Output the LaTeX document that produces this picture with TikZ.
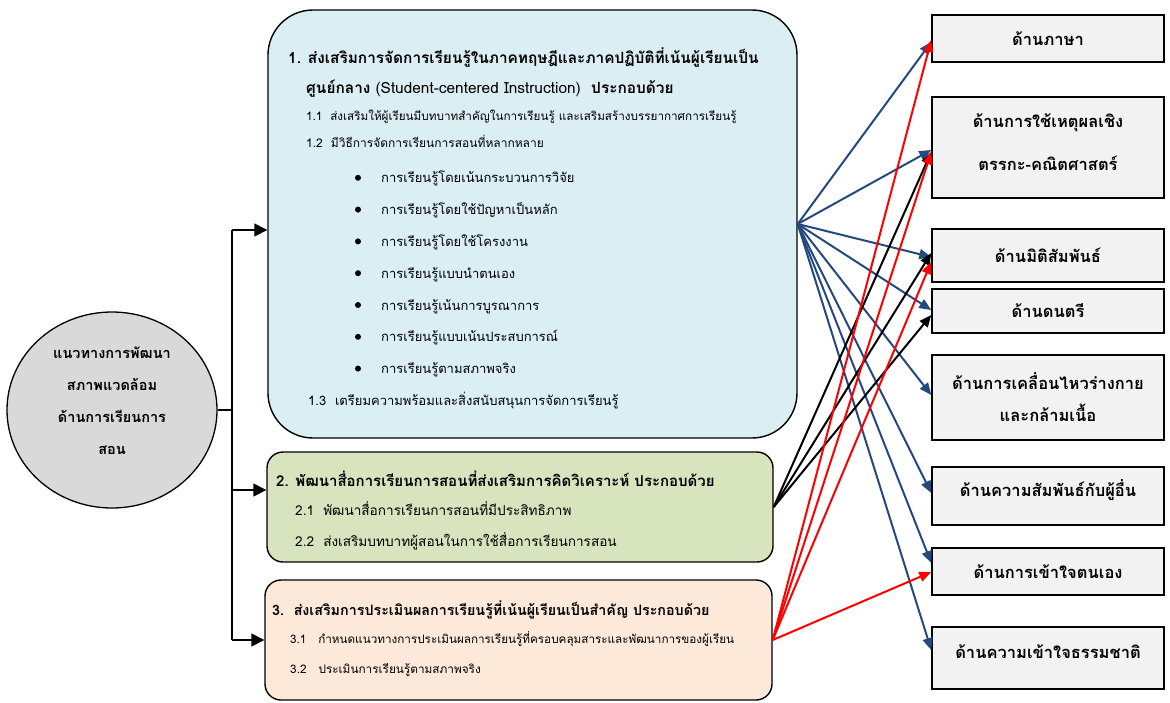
\documentclass[tikz,border=0pt]{standalone}
\usepackage{fontspec}
\setmainfont[Script=Thai]{Loma}
\usetikzlibrary{arrows.meta,shapes.geometric}

\definecolor{boxblue}{HTML}{DAEEF3}
\definecolor{boxgreen}{HTML}{D7E4BD}
\definecolor{boxpeach}{HTML}{FDE9D9}
\definecolor{hubgray}{HTML}{D9D9D9}
\definecolor{aimgray}{HTML}{F2F2F2}
\definecolor{linkblue}{HTML}{24497F}

\tikzset{
	grp/.style={draw=black,line width=1.4pt,inner sep=0pt},
	aim/.style={draw=black,fill=aimgray,line width=1.5pt,minimum width=232pt,
		inner sep=0pt,align=center,font=\bfseries\fontsize{16.5}{19}\selectfont},
	head/.style={anchor=base west,inner sep=0pt,font=\bfseries\fontsize{#1}{17}\selectfont},
	head/.default=15,
	item/.style={anchor=base west,inner sep=0pt,font=\fontsize{#1}{15}\selectfont},
	item/.default=13,
	dot/.style={circle,fill=black,inner sep=0pt,minimum size=6pt},
	feed/.style={-{Triangle[length=12pt,width=10pt]},line width=2pt},
	trunk/.style={line width=1.5pt},
}

\begin{document}
\begin{tikzpicture}[x=1pt,y=-1pt]

\useasboundingbox (0,0) rectangle (1170,702);

% centre
\node[ellipse,draw=black,line width=1.3pt,fill=hubgray,minimum width=210pt,
	minimum height=196pt] (hub) at (112,410) {};
\node[align=center,font=\bfseries\fontsize{14.5}{32}\selectfont] (hubtxt) at (112,401)
	{แนวทางการพัฒนา\\สภาพแวดล้อม\\ด้านการเรียนการ\\สอน};

% three groups
\node[grp,fill=boxblue,rounded corners=45pt,minimum width=529pt,minimum height=428pt]
	(p1) at (532.5,224) {};
\node[grp,fill=boxgreen,rounded corners=16pt,minimum width=506pt,minimum height=110pt]
	(p2) at (520,507) {};
\node[grp,fill=boxpeach,rounded corners=16pt,minimum width=507pt,minimum height=120pt]
	(p3) at (518.5,640) {};

% group 1
\node[head=15.4] (h1a) at (288,63) {1. ส่งเสริมการจัดการเรียนรู้ในภาคทฤษฎีและภาคปฏิบัติที่เน้นผู้เรียนเป็น};
\node[head=15.4] (h1b) at (306,93) {ศูนย์กลาง {\mdseries (Student-centered Instruction)}\ \ ประกอบด้วย};
\node[item=11.7] (s11) at (306,120) {1.1\ \ ส่งเสริมให้ผู้เรียนมีบทบาทสำคัญในการเรียนรู้ และเสริมสร้างบรรยากาศการเรียนรู้};
\node[item=12] (s12) at (306,147) {1.2\ \ มีวิธีการจัดการเรียนการสอนที่หลากหลาย};
\foreach \txt [count=\i] in {การเรียนรู้โดยเน้นกระบวนการวิจัย,
	การเรียนรู้โดยใช้ปัญหาเป็นหลัก,
	การเรียนรู้โดยใช้โครงงาน,
	การเรียนรู้แบบนำตนเอง,
	การเรียนรู้เน้นการบูรณาการ,
	การเรียนรู้แบบเน้นประสบการณ์,
	การเรียนรู้ตามสภาพจริง}{
	\node[dot] (d\i) at (358,{146+31.8*\i}) {};
	\node[item] (b\i) at (381,{151+31.8*\i}) {\txt};
}
\node[item] (s13) at (308,405) {1.3\ \ เตรียมความพร้อมและสิ่งสนับสนุนการจัดการเรียนรู้};

% group 2
\node[head] (h2) at (276,486) {2. พัฒนาสื่อการเรียนการสอนที่ส่งเสริมการคิดวิเคราะห์ ประกอบด้วย};
\node[item=13.6] (s21) at (295,515) {2.1\ \ พัฒนาสื่อการเรียนการสอนที่มีประสิทธิภาพ};
\node[item=13.6] (s22) at (295,546) {2.2\ \ ส่งเสริมบทบาทผู้สอนในการใช้สื่อการเรียนการสอน};

% group 3
\node[head=14.3] (h3) at (272,615) {3.\ \ ส่งเสริมการประเมินผลการเรียนรู้ที่เน้นผู้เรียนเป็นสำคัญ ประกอบด้วย};
\node[item=11.7] (s31) at (290,643) {3.1\ \ \ กำหนดแนวทางการประเมินผลการเรียนรู้ที่ครอบคลุมสาระและพัฒนาการของผู้เรียน};
\node[item=11.8] (s32) at (290,673) {3.2\ \ \ ประเมินการเรียนรู้ตามสภาพจริง};

% eight aims
\node[aim,minimum height=47pt] (a1) at (1048,38.5) {ด้านภาษา};
\node[aim,minimum height=101pt] (a2) at (1048,147.5) {ด้านการใช้เหตุผลเชิง\\[24pt]ตรรกะ-คณิตศาสตร์\\[-9pt]};
\node[aim,minimum height=53pt] (a3) at (1048,255.5) {ด้านมิติสัมพันธ์};
\node[aim,minimum height=44pt] (a4) at (1048,311) {ด้านดนตรี};
\node[aim,minimum height=85pt] (a5) at (1048,397.5) {ด้านการเคลื่อนไหวร่างกาย\\[13pt]และกล้ามเนื้อ};
\node[aim,minimum height=58pt] (a6) at (1048,496) {ด้านความสัมพันธ์กับผู้อื่น\\[-4pt]};
\node[aim,minimum height=47pt] (a7) at (1048,571.5) {ด้านการเข้าใจตนเอง};
\node[aim,minimum height=62pt] (a8) at (1048,658) {ด้านความเข้าใจธรรมชาติ\\[-6pt]};

% trunk
\coordinate (top) at (232,230);
\coordinate (mid) at (232,490);
\coordinate (bot) at (232,640);
\draw[trunk] (hub.east) -- (hub.east -| top);
\draw[trunk] (top) -- (bot);
\foreach \c/\p in {top/p1,mid/p2,bot/p3}
	\draw[trunk,-{Triangle[length=13pt,width=13pt]}] (\c) -- (\c -| \p.west);

% links
\foreach \t/\s in {a1/-3.5,a2/-2.5,a3/-1.5,a4/1,a5/2.5,a6/3,a7/8.5,a8/8}
	\draw[feed,draw=linkblue] (p1.east) -- ([yshift=\s pt]\t.west);
\foreach \t/\s in {a2/-4.5,a3/2.5,a4/-4}
	\draw[feed,draw=black] (p2.east) -- ([yshift=\s pt]\t.west);
\foreach \t/\s in {a1/-1.5,a2/-4.5,a3/-6.5,a7/-0.5}
	\draw[feed,draw=red] (p3.east) -- ([yshift=\s pt]\t.west);

\end{tikzpicture}
\end{document}
